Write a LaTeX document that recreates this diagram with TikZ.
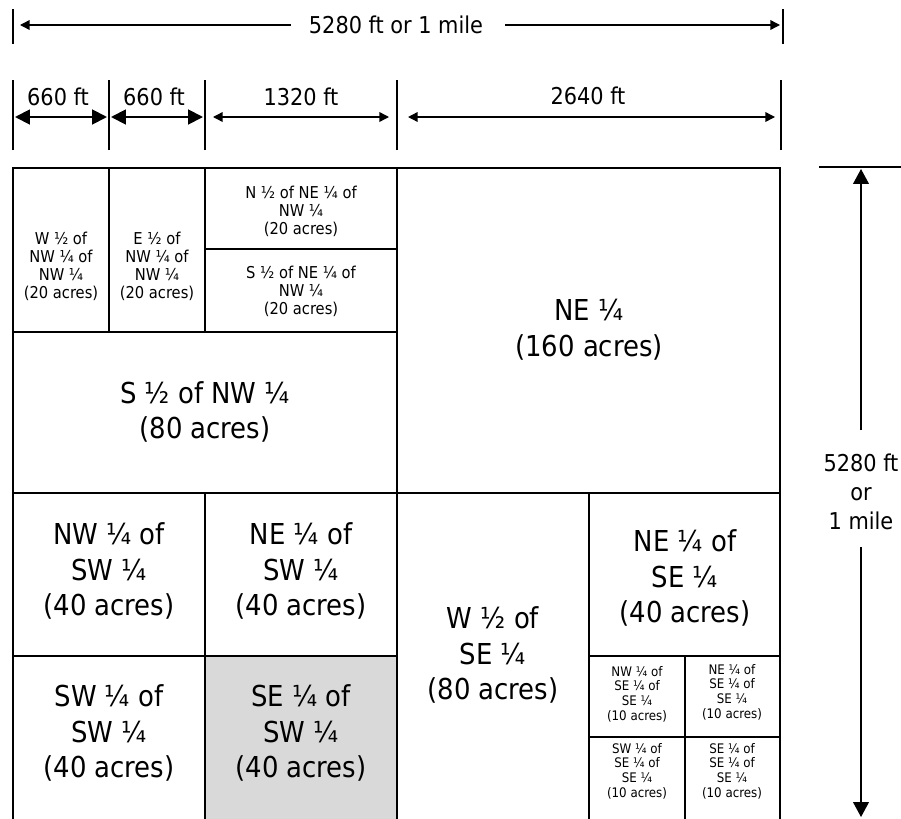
\documentclass[tikz,border=0pt]{standalone}
\usepackage{fontspec}
\setmainfont{DejaVu Sans Condensed}
\usepackage{xcolor}
\usetikzlibrary{arrows.meta}

\begin{document}
\begin{tikzpicture}[
  x=0.02cm, y=-0.02cm,
  parcel/.style={line width=1.6pt},
  tick/.style={line width=1.2pt},
  dimbig/.style={{Triangle[length=8.5pt,width=8.5pt]}-{Triangle[length=8.5pt,width=8.5pt]}, line width=1.1pt},
  dimthin/.style={-{Triangle[length=5.5pt,width=5.5pt]}, line width=0.8pt},
  dimside/.style={-{Triangle[length=8.5pt,width=9pt]}, line width=0.7pt},
  bigtxt/.style={align=center, inner sep=0pt, font=\fontsize{16.4}{20.4}\selectfont},
  dimtxt/.style={align=center, inner sep=0pt, font=\fontsize{13.2}{16.4}\selectfont},
  smalltxt/.style={align=center, inner sep=0pt, font=\fontsize{9.3}{10.2}\selectfont},
  tinytxt/.style={align=center, inner sep=0pt, font=\fontsize{7.5}{8.3}\selectfont},
]
  \useasboundingbox (0,0) rectangle (901,818);

  % Shaded parcel
  \fill[black!15] (205,656) rectangle (397,830);

  % Section lines
  \draw[parcel] (13,168) rectangle (780,830);
  \draw[parcel] (397,168) -- (397,830);
  \draw[parcel] (13,493) -- (780,493);
  \draw[parcel] (109,168) -- (109,332);
  \draw[parcel] (205,168) -- (205,332);
  \draw[parcel] (13,332) -- (397,332);
  \draw[parcel] (205,249) -- (397,249);
  \draw[parcel] (205,493) -- (205,830);
  \draw[parcel] (13,656) -- (397,656);
  \draw[parcel] (589,493) -- (589,830);
  \draw[parcel] (589,656) -- (780,656);
  \draw[parcel] (685,656) -- (685,830);
  \draw[parcel] (589,737) -- (780,737);

  % Top dimension: whole mile
  \draw[tick] (13,9) -- (13,44);
  \draw[tick] (783,9) -- (783,44);
  \node[dimtxt] (mile) at (396,25) {5280 ft or 1 mile};
  \coordinate (mileL) at (20,25);
  \coordinate (mileR) at (780,25);
  \draw[dimthin] (mile.west) ++(-18,0) coordinate (mileLs) -- (mileL);
  \draw[dimthin] (mile.east) ++(22,0) coordinate (mileRs) -- (mileR);

  % Top dimension: parts
  \foreach \xt in {13,109,205,397,781}
    \draw[tick] (\xt,80) -- (\xt,150);
  \node[dimtxt] (wa) at (58,97) {660 ft};
  \node[dimtxt] (wb) at (154,97) {660 ft};
  \node[dimtxt] (wc) at (301,97) {1320 ft};
  \node[dimtxt] (wd) at (588,96) {2640 ft};
  \coordinate (a1) at (15,117);  \coordinate (a2) at (107,117);
  \coordinate (b1) at (111,117); \coordinate (b2) at (203,117);
  \coordinate (c1) at (213,117); \coordinate (c2) at (389,117);
  \coordinate (d1) at (408,117); \coordinate (d2) at (775,117);
  \draw[dimbig] (a1) -- (a2);
  \draw[dimbig] (b1) -- (b2);
  \draw[dimthin, {Triangle[length=5.5pt,width=5.5pt]}-{Triangle[length=5.5pt,width=5.5pt]}] (c1) -- (c2);
  \draw[dimthin, {Triangle[length=5.5pt,width=5.5pt]}-{Triangle[length=5.5pt,width=5.5pt]}] (d1) -- (d2);

  % Side dimension
  \draw[line width=0.9pt] (819,167) -- (901,167);
  \node[dimtxt] (side) at (861,492) {5280 ft\\or\\1 mile};
  \coordinate (sideT) at (861,169);
  \coordinate (sideB) at (861,817);
  \draw[dimside] (861,430) coordinate (sideTs) -- (sideT);
  \draw[dimside] (861,547) coordinate (sideBs) -- (sideB);

  % NW quarter
  \node[smalltxt] (wnw) at (61,266) {W ½ of\\NW ¼ of\\NW ¼\\(20 acres)};
  \node[smalltxt] (enw) at (157,266) {E ½ of\\NW ¼ of\\NW ¼\\(20 acres)};
  \node[smalltxt] (nne) at (301,211) {N ½ of NE ¼ of\\NW ¼\\(20 acres)};
  \node[smalltxt] (sne) at (301,291) {S ½ of NE ¼ of\\NW ¼\\(20 acres)};
  \node[bigtxt] (snw) at (205,412) {S ½ of NW ¼\\(80 acres)};

  % NE quarter
  \node[bigtxt] (ne) at (589,330) {NE ¼\\(160 acres)};

  % SW quarter
  \node[bigtxt] (nwsw) at (109,571) {NW ¼ of\\SW ¼\\(40 acres)};
  \node[bigtxt] (nesw) at (301,571) {NE ¼ of\\SW ¼\\(40 acres)};
  \node[bigtxt] (swsw) at (109,733) {SW ¼ of\\SW ¼\\(40 acres)};
  \node[bigtxt] (sesw) at (301,733) {SE ¼ of\\SW ¼\\(40 acres)};

  % SE quarter
  \node[bigtxt] (wse) at (493,655) {W ½ of\\SE ¼\\(80 acres)};
  \node[bigtxt] (nese) at (685,578) {NE ¼ of\\SE ¼\\(40 acres)};
  \node[tinytxt] (nwsese) at (637,694) {NW ¼ of\\SE ¼ of\\SE ¼\\(10 acres)};
  \node[tinytxt] (nesese) at (732,692) {NE ¼ of\\SE ¼ of\\SE ¼\\(10 acres)};
  \node[tinytxt] (swsese) at (637,771) {SW ¼ of\\SE ¼ of\\SE ¼\\(10 acres)};
  \node[tinytxt] (sesese) at (732,771) {SE ¼ of\\SE ¼ of\\SE ¼\\(10 acres)};

\end{tikzpicture}
\end{document}
